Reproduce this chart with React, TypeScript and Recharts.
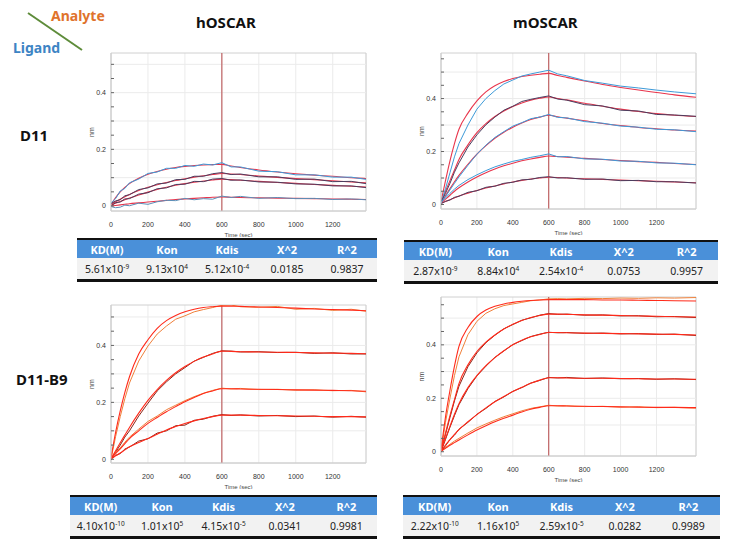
import React from 'react';
import { LineChart, Line, XAxis, YAxis, CartesianGrid, ReferenceLine, ReferenceArea, Label } from 'recharts';

// ---------- time axes (sec) ----------
const TIME_H = [0, 25, 50, 75, 100, 150, 200, 250, 300, 350, 400, 450, 500, 550, 600, 650, 700, 800, 900, 1000, 1100, 1200, 1300, 1380];
const TIME_M = [0, 25, 50, 75, 100, 150, 200, 250, 300, 350, 400, 450, 500, 550, 600, 650, 700, 800, 900, 1000, 1100, 1200, 1300, 1420];

// ---------- hOSCAR / D11 ----------
const hD11_fitA = [0.005, 0.03, 0.05, 0.066, 0.079, 0.098, 0.112, 0.122, 0.13, 0.136, 0.14, 0.143, 0.145, 0.146, 0.147, 0.141, 0.136, 0.127, 0.12, 0.114, 0.109, 0.105, 0.1, 0.097];
const hD11_obsA = [0.01, 0.026, 0.053, 0.062, 0.082, 0.095, 0.115, 0.12, 0.133, 0.133, 0.143, 0.14, 0.148, 0.145, 0.153, 0.138, 0.138, 0.123, 0.121, 0.11, 0.11, 0.102, 0.102, 0.094];
const hD11_fitB = [0.005, 0.015, 0.024, 0.033, 0.041, 0.055, 0.066, 0.075, 0.083, 0.09, 0.096, 0.102, 0.107, 0.111, 0.115, 0.113, 0.111, 0.106, 0.101, 0.097, 0.093, 0.089, 0.085, 0.082];
const hD11_obsB = [0.008, 0.018, 0.022, 0.036, 0.04, 0.058, 0.064, 0.078, 0.081, 0.093, 0.094, 0.105, 0.105, 0.114, 0.118, 0.111, 0.113, 0.103, 0.103, 0.094, 0.095, 0.086, 0.087, 0.079];
const hD11_fitC = [0.003, 0.01, 0.016, 0.022, 0.028, 0.039, 0.049, 0.058, 0.066, 0.073, 0.079, 0.084, 0.088, 0.092, 0.095, 0.093, 0.091, 0.087, 0.083, 0.08, 0.076, 0.073, 0.07, 0.067];
const hD11_obsC = [0.0, 0.012, 0.014, 0.025, 0.026, 0.042, 0.047, 0.061, 0.064, 0.076, 0.077, 0.087, 0.086, 0.095, 0.097, 0.091, 0.092, 0.085, 0.084, 0.078, 0.077, 0.071, 0.071, 0.065];
const hD11_fitD = [0.0, 0.002, 0.004, 0.006, 0.008, 0.011, 0.014, 0.017, 0.02, 0.023, 0.025, 0.027, 0.029, 0.031, 0.032, 0.031, 0.03, 0.029, 0.028, 0.027, 0.026, 0.025, 0.024, 0.023];
const hD11_obsD = [-0.002, -0.006, -0.004, 0.003, 0.001, 0.01, 0.006, 0.015, 0.02, 0.019, 0.027, 0.022, 0.026, 0.024, 0.035, 0.03, 0.034, 0.027, 0.03, 0.026, 0.027, 0.023, 0.025, 0.022];

// ---------- mOSCAR / D11 ----------
const mD11_fitA = [0.01, 0.09, 0.165, 0.23, 0.284, 0.345, 0.391, 0.425, 0.448, 0.464, 0.476, 0.483, 0.488, 0.492, 0.495, 0.487, 0.48, 0.466, 0.453, 0.442, 0.432, 0.423, 0.414, 0.405];
const mD11_obsA = [0.005, 0.06, 0.12, 0.18, 0.23, 0.3, 0.36, 0.4, 0.43, 0.455, 0.47, 0.485, 0.493, 0.5, 0.507, 0.493, 0.486, 0.468, 0.458, 0.447, 0.44, 0.432, 0.425, 0.418];
const mD11_fitB = [0.005, 0.05, 0.09, 0.13, 0.17, 0.225, 0.271, 0.305, 0.332, 0.353, 0.37, 0.383, 0.394, 0.401, 0.406, 0.4, 0.395, 0.382, 0.371, 0.36, 0.351, 0.343, 0.337, 0.332];
const mD11_obsB = [0.01, 0.042, 0.08, 0.122, 0.157, 0.217, 0.263, 0.301, 0.33, 0.356, 0.371, 0.389, 0.397, 0.404, 0.41, 0.398, 0.394, 0.377, 0.372, 0.356, 0.353, 0.34, 0.338, 0.333];
const mD11_fitC = [0.005, 0.033, 0.06, 0.086, 0.11, 0.152, 0.19, 0.222, 0.25, 0.273, 0.292, 0.308, 0.321, 0.33, 0.337, 0.331, 0.326, 0.316, 0.306, 0.298, 0.291, 0.286, 0.281, 0.277];
const mD11_obsC = [0.008, 0.03, 0.055, 0.08, 0.104, 0.148, 0.19, 0.224, 0.253, 0.275, 0.296, 0.309, 0.324, 0.33, 0.34, 0.329, 0.327, 0.313, 0.307, 0.296, 0.292, 0.284, 0.282, 0.275];
const mD11_fitD = [0.005, 0.02, 0.035, 0.05, 0.063, 0.085, 0.104, 0.12, 0.134, 0.146, 0.156, 0.165, 0.172, 0.178, 0.183, 0.181, 0.179, 0.174, 0.17, 0.166, 0.162, 0.159, 0.155, 0.151];
const mD11_obsD = [0.008, 0.025, 0.042, 0.058, 0.072, 0.094, 0.112, 0.128, 0.142, 0.153, 0.163, 0.17, 0.178, 0.184, 0.191, 0.18, 0.181, 0.172, 0.171, 0.164, 0.163, 0.157, 0.156, 0.15];
const mD11_fitE = [0.005, 0.011, 0.018, 0.025, 0.032, 0.043, 0.053, 0.062, 0.07, 0.078, 0.085, 0.091, 0.096, 0.1, 0.103, 0.102, 0.1, 0.097, 0.095, 0.092, 0.09, 0.088, 0.085, 0.082];
const mD11_obsE = [0.003, 0.012, 0.017, 0.027, 0.031, 0.046, 0.052, 0.065, 0.069, 0.08, 0.084, 0.093, 0.095, 0.102, 0.105, 0.1, 0.101, 0.095, 0.096, 0.09, 0.091, 0.086, 0.086, 0.081];

// ---------- hOSCAR / D11-B9 ----------
const hB9_fitA = [0.005, 0.095, 0.17, 0.235, 0.29, 0.37, 0.42, 0.46, 0.487, 0.505, 0.518, 0.527, 0.533, 0.536, 0.538, 0.538, 0.537, 0.535, 0.533, 0.531, 0.528, 0.526, 0.524, 0.522];
const hB9_obsA = [0.0, 0.08, 0.15, 0.213, 0.268, 0.345, 0.398, 0.44, 0.468, 0.492, 0.504, 0.518, 0.526, 0.533, 0.541, 0.542, 0.536, 0.534, 0.537, 0.527, 0.53, 0.523, 0.527, 0.52];
const hB9_fitB = [0.003, 0.03, 0.058, 0.085, 0.112, 0.162, 0.207, 0.245, 0.277, 0.304, 0.326, 0.344, 0.359, 0.37, 0.38, 0.379, 0.378, 0.377, 0.376, 0.375, 0.374, 0.373, 0.372, 0.371];
const hB9_obsB = [0.0, 0.025, 0.05, 0.078, 0.1, 0.152, 0.197, 0.24, 0.272, 0.3, 0.322, 0.345, 0.358, 0.372, 0.381, 0.38, 0.377, 0.378, 0.375, 0.376, 0.372, 0.374, 0.37, 0.37];
const hB9_fitC = [0.003, 0.02, 0.037, 0.055, 0.073, 0.1, 0.126, 0.147, 0.167, 0.185, 0.202, 0.217, 0.231, 0.24, 0.248, 0.248, 0.247, 0.246, 0.245, 0.244, 0.243, 0.242, 0.241, 0.239];
const hB9_obsC = [0.0, 0.024, 0.04, 0.06, 0.078, 0.106, 0.133, 0.152, 0.174, 0.19, 0.206, 0.22, 0.232, 0.242, 0.25, 0.247, 0.249, 0.245, 0.246, 0.243, 0.244, 0.241, 0.242, 0.237];
const hB9_fitD = [0.002, 0.012, 0.022, 0.033, 0.044, 0.059, 0.073, 0.088, 0.103, 0.115, 0.126, 0.135, 0.143, 0.15, 0.155, 0.155, 0.155, 0.154, 0.153, 0.152, 0.151, 0.15, 0.15, 0.149];
const hB9_obsD = [0.0, 0.014, 0.02, 0.036, 0.043, 0.064, 0.072, 0.092, 0.1, 0.118, 0.12, 0.137, 0.141, 0.151, 0.157, 0.154, 0.156, 0.152, 0.154, 0.15, 0.152, 0.148, 0.151, 0.148];

// ---------- mOSCAR / D11-B9 ----------
const mB9_fitA = [0.005, 0.13, 0.23, 0.32, 0.394, 0.465, 0.506, 0.53, 0.544, 0.553, 0.559, 0.563, 0.566, 0.568, 0.569, 0.569, 0.569, 0.569, 0.568, 0.568, 0.567, 0.566, 0.565, 0.564];
const mB9_obsA = [0.0, 0.11, 0.2, 0.285, 0.355, 0.438, 0.488, 0.518, 0.535, 0.547, 0.553, 0.559, 0.565, 0.568, 0.572, 0.573, 0.572, 0.574, 0.573, 0.575, 0.574, 0.576, 0.575, 0.577];
const mB9_fitB = [0.005, 0.07, 0.135, 0.195, 0.255, 0.325, 0.375, 0.41, 0.437, 0.459, 0.477, 0.491, 0.502, 0.51, 0.515, 0.515, 0.514, 0.512, 0.511, 0.51, 0.508, 0.507, 0.505, 0.504];
const mB9_obsB = [0.0, 0.065, 0.128, 0.19, 0.245, 0.318, 0.37, 0.408, 0.436, 0.46, 0.476, 0.492, 0.501, 0.511, 0.517, 0.514, 0.515, 0.511, 0.512, 0.508, 0.509, 0.505, 0.506, 0.502];
const mB9_fitC = [0.005, 0.05, 0.095, 0.14, 0.18, 0.24, 0.285, 0.322, 0.352, 0.378, 0.4, 0.417, 0.43, 0.439, 0.446, 0.446, 0.445, 0.444, 0.443, 0.442, 0.441, 0.44, 0.439, 0.437];
const mB9_obsC = [0.0, 0.046, 0.092, 0.135, 0.176, 0.236, 0.284, 0.32, 0.353, 0.377, 0.401, 0.416, 0.431, 0.44, 0.447, 0.445, 0.446, 0.443, 0.444, 0.441, 0.442, 0.439, 0.44, 0.435];
const mB9_fitD = [0.003, 0.025, 0.045, 0.065, 0.083, 0.112, 0.139, 0.164, 0.187, 0.207, 0.225, 0.241, 0.256, 0.268, 0.277, 0.277, 0.276, 0.275, 0.275, 0.274, 0.273, 0.272, 0.272, 0.271];
const mB9_obsD = [0.0, 0.022, 0.046, 0.062, 0.084, 0.11, 0.14, 0.162, 0.188, 0.205, 0.226, 0.24, 0.257, 0.267, 0.278, 0.276, 0.278, 0.274, 0.276, 0.273, 0.274, 0.271, 0.273, 0.27];
const mB9_fitE = [0.002, 0.013, 0.024, 0.034, 0.044, 0.063, 0.081, 0.097, 0.112, 0.125, 0.137, 0.149, 0.159, 0.166, 0.172, 0.172, 0.171, 0.17, 0.169, 0.168, 0.167, 0.166, 0.166, 0.165];
const mB9_obsE = [0.0, 0.016, 0.028, 0.04, 0.05, 0.07, 0.089, 0.104, 0.118, 0.131, 0.142, 0.153, 0.162, 0.168, 0.174, 0.171, 0.172, 0.169, 0.17, 0.167, 0.168, 0.165, 0.166, 0.163];

// ---------- ticks ----------
const X_TICKS = [0, 200, 400, 600, 800, 1000, 1200];
const Y_TICKS = [0, 0.05, 0.1, 0.15, 0.2, 0.25, 0.3, 0.35, 0.4, 0.45, 0.5, 0.55];
const Y_LABELS = [0, 0.2, 0.4];
const Y_GRID = [0.1, 0.2, 0.3, 0.4, 0.5];

// ---------- table values ----------
const TABLE_HEADERS = ['KD(M)', 'Kon', 'Kdis', 'X^2', 'R^2'];
const KD_MANT = ['5.61', '2.87', '4.10', '2.22'];
const KD_EXP = ['-9', '-9', '-10', '-10'];
const KON_MANT = ['9.13', '8.84', '1.01', '1.16'];
const KON_EXP = ['4', '4', '5', '5'];
const KDIS_MANT = ['5.12', '2.54', '4.15', '2.59'];
const KDIS_EXP = ['-4', '-4', '-5', '-5'];
const X2 = ['0.0185', '0.0753', '0.0341', '0.0282'];
const R2 = ['0.9837', '0.9957', '0.9981', '0.9989'];

const FIT_TOP = '#e8354c';
const FIT_BOT = '#ff2a1a';
const BLUE = '#3d9ad8';
const DARK = '#4b3d5e';
const ORANGE = '#f0803a';
const MAROON = '#8a2418';

type Series = { key: string; values: number[]; color: string; width: number; smooth: boolean };

const YTick = (props: any) => {
  const { x, y, payload } = props;
  const v = payload.value;
  const major = Y_LABELS.some((m) => Math.abs(m - v) < 1e-6);
  return (
    <g>
      <line x1={x + 5} x2={x + 8} y1={y} y2={y} stroke="#666" strokeWidth={1} />
      {major && (
        <text x={x} y={y} dy="0.35em" textAnchor="end" fontSize={7} fill="#333" fontFamily="Liberation Sans, Arial, sans-serif">
          {v === 0 ? '0' : v.toFixed(1)}
        </text>
      )}
    </g>
  );
};

type ChartProps = {
  left: number; top: number; plotW: number; plotH: number;
  time: number[]; xMax: number; yMin: number; yMax: number; series: Series[];
};

const Sensor = ({ left, top, plotW, plotH, time, xMax, yMin, yMax, series }: ChartProps) => {
  const data = time.map((t, i) => {
    const row: any = { t };
    series.forEach((s) => { row[s.key] = s.values[i]; });
    return row;
  });
  const yAxisW = 38, xAxisH = 26, mTop = 2, mRight = 2;
  return (
    <div style={{ position: 'absolute', left: left - yAxisW, top: top - mTop }}>
      <LineChart width={plotW + yAxisW + mRight} height={plotH + mTop + xAxisH} data={data}
        margin={{ top: mTop, right: mRight, left: 0, bottom: 0 }} style={{ fontFamily: 'Liberation Sans, Arial, sans-serif' }}>
        <CartesianGrid vertical horizontal={false} stroke="#ebebeb" />
        {Y_GRID.filter((v) => v < yMax).map((v) => (
          <ReferenceLine key={v} y={v} stroke="#ebebeb" />
        ))}
        <XAxis dataKey="t" type="number" domain={[0, xMax]} ticks={X_TICKS} allowDataOverflow interval={0}
          tickLine={false} tickSize={0} tickMargin={11} height={xAxisH}
          axisLine={{ stroke: '#d0d0d0' }} tick={{ fontSize: 7, fill: '#333' }}>
          <Label value="Time (sec)" position="insideBottom" offset={0} style={{ fontSize: 6, fill: '#444' }} />
        </XAxis>
        <YAxis type="number" domain={[yMin, yMax]} ticks={Y_TICKS.filter((v) => v <= yMax)} allowDataOverflow interval={0}
          width={yAxisW} tickSize={0} tickLine={false} tickMargin={5} tick={<YTick />}
          axisLine={{ stroke: '#d0d0d0' }}>
          <Label value="nm" angle={-90} position="center" style={{ fontSize: 7, fill: '#444' }} />
        </YAxis>
        <ReferenceArea x1={0} x2={xMax} y1={yMin} y2={yMax} fill="none" fillOpacity={0} stroke="#d0d0d0" />
        <ReferenceLine x={600} stroke="#b8484a" strokeWidth={1} />
        {series.map((s) => (
          <Line key={s.key} dataKey={s.key} type={s.smooth ? 'monotone' : 'linear'} stroke={s.color}
            strokeWidth={s.width} dot={false} isAnimationActive={false} />
        ))}
      </LineChart>
    </div>
  );
};

const obs = (key: string, values: number[], color: string): Series => ({ key, values, color, width: 1, smooth: false });
const fit = (key: string, values: number[], color: string): Series => ({ key, values, color, width: 1.1, smooth: true });

const SERIES_TL: Series[] = [
  fit('fA', hD11_fitA, FIT_TOP), fit('fB', hD11_fitB, FIT_TOP), fit('fC', hD11_fitC, FIT_TOP), fit('fD', hD11_fitD, FIT_TOP),
  obs('oA', hD11_obsA, BLUE), obs('oB', hD11_obsB, DARK), obs('oC', hD11_obsC, DARK), obs('oD', hD11_obsD, '#5b8fb8'),
];
const SERIES_TR: Series[] = [
  fit('fA', mD11_fitA, FIT_TOP), fit('fB', mD11_fitB, FIT_TOP), fit('fC', mD11_fitC, FIT_TOP), fit('fD', mD11_fitD, FIT_TOP), fit('fE', mD11_fitE, FIT_TOP),
  obs('oA', mD11_obsA, BLUE), obs('oB', mD11_obsB, DARK), obs('oC', mD11_obsC, BLUE), obs('oD', mD11_obsD, BLUE), obs('oE', mD11_obsE, DARK),
];
const SERIES_BL: Series[] = [
  obs('oA', hB9_obsA, ORANGE), obs('oB', hB9_obsB, MAROON), obs('oC', hB9_obsC, ORANGE), obs('oD', hB9_obsD, MAROON),
  fit('fA', hB9_fitA, FIT_BOT), fit('fB', hB9_fitB, FIT_BOT), fit('fC', hB9_fitC, FIT_BOT), fit('fD', hB9_fitD, FIT_BOT),
];
const SERIES_BR: Series[] = [
  obs('oA', mB9_obsA, ORANGE), obs('oB', mB9_obsB, MAROON), obs('oC', mB9_obsC, MAROON), obs('oD', mB9_obsD, MAROON), obs('oE', mB9_obsE, ORANGE),
  fit('fA', mB9_fitA, FIT_BOT), fit('fB', mB9_fitB, FIT_BOT), fit('fC', mB9_fitC, FIT_BOT), fit('fD', mB9_fitD, FIT_BOT), fit('fE', mB9_fitE, FIT_BOT),
];

const Sup = ({ m, e }: { m: string; e: string }) => (
  <span>{m}x10<span style={{ fontSize: 6.5, verticalAlign: 'super', lineHeight: 0 }}>{e}</span></span>
);

const StatTable = ({ left, top, width, i }: { left: number; top: number; width: number; i: number }) => (
  <div style={{ position: 'absolute', left, top, width, borderTop: '2px solid #111', borderBottom: '3px solid #111', fontFamily: 'Noto Sans, sans-serif' }}>
    <div style={{ display: 'flex', background: '#4a90d9', height: 18, alignItems: 'center', color: '#fff', fontWeight: 700, fontSize: 11 }}>
      {TABLE_HEADERS.map((h) => (
        <div key={h} style={{ flex: 1, textAlign: 'center' }}>{h}</div>
      ))}
    </div>
    <div style={{ display: 'flex', background: '#f2f2f2', height: 21, alignItems: 'center', color: '#222', fontSize: 10.5 }}>
      <div style={{ flex: 1, textAlign: 'center' }}><Sup m={KD_MANT[i]} e={KD_EXP[i]} /></div>
      <div style={{ flex: 1, textAlign: 'center' }}><Sup m={KON_MANT[i]} e={KON_EXP[i]} /></div>
      <div style={{ flex: 1, textAlign: 'center' }}><Sup m={KDIS_MANT[i]} e={KDIS_EXP[i]} /></div>
      <div style={{ flex: 1, textAlign: 'center' }}>{X2[i]}</div>
      <div style={{ flex: 1, textAlign: 'center' }}>{R2[i]}</div>
    </div>
  </div>
);

const bold: React.CSSProperties = { position: 'absolute', fontFamily: 'Noto Sans, sans-serif', fontWeight: 700, fontSize: 15, color: '#111', lineHeight: '18px', whiteSpace: 'nowrap' };

export default function App() {
  return (
    <div style={{ position: 'absolute', left: 0, top: 0, width: 731, height: 542, background: '#fff', overflow: 'hidden' }}>
      {/* legend corner */}
      <svg style={{ position: 'absolute', left: 0, top: 0 }} width={100} height={60}>
        <line x1={28} y1={13} x2={82} y2={50} stroke="#5e8c3a" strokeWidth={2} />
      </svg>
      <div style={{ ...bold, left: 51, top: 7, color: '#e0732c', fontSize: 14 }}>Analyte</div>
      <div style={{ ...bold, left: 13, top: 39, color: '#3d84c4', fontSize: 14 }}>Ligand</div>

      <div style={{ ...bold, left: 196, top: 13 }}>hOSCAR</div>
      <div style={{ ...bold, left: 513, top: 13 }}>mOSCAR</div>
      <div style={{ ...bold, left: 20, top: 126 }}>D11</div>
      <div style={{ ...bold, left: 16, top: 370 }}>D11-B9</div>

      <Sensor left={111} top={53} plotW={255} plotH={158} time={TIME_H} xMax={1380} yMin={-0.0176} yMax={0.54} series={SERIES_TL} />
      <Sensor left={441} top={53} plotW={255} plotH={156} time={TIME_M} xMax={1420} yMin={-0.017} yMax={0.572} series={SERIES_TR} />
      <Sensor left={111} top={305} plotW={255} plotH={158} time={TIME_H} xMax={1380} yMin={-0.013} yMax={0.542} series={SERIES_BL} />
      <Sensor left={441} top={297} plotW={255} plotH={159} time={TIME_M} xMax={1420} yMin={-0.016} yMax={0.579} series={SERIES_BR} />

      <StatTable left={77} top={238} width={300} i={0} />
      <StatTable left={404} top={240} width={314} i={1} />
      <StatTable left={70} top={495} width={307} i={2} />
      <StatTable left={403} top={495} width={317} i={3} />
    </div>
  );
}
